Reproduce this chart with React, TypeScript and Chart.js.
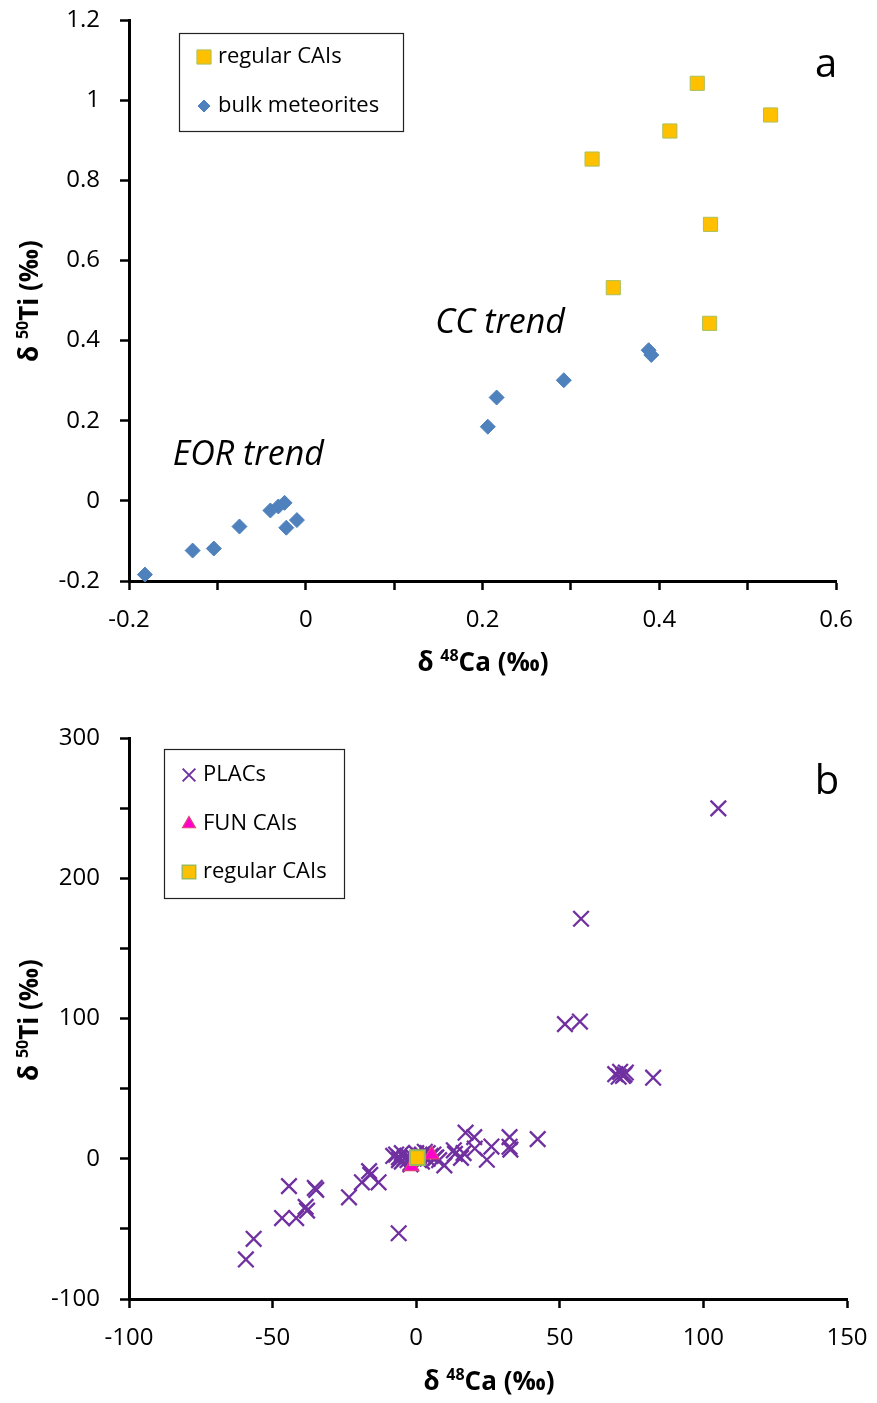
import React, { useEffect, useRef } from 'react';
import { Chart, registerables } from 'chart.js';
import { drawPoint } from 'chart.js/helpers';

Chart.register(...registerables);

const FONT = "'Open Sans', sans-serif";

// ---------- Panel a data ----------
const regularA_x = [0.443, 0.526, 0.412, 0.324, 0.458, 0.348, 0.457];
const regularA_y = [1.042, 0.963, 0.923, 0.853, 0.690, 0.532, 0.443];
const bulk_x = [0.388, 0.391, 0.292, 0.216, 0.206, -0.024, -0.031, -0.040, -0.010, -0.022, -0.075, -0.104, -0.128, -0.182];
const bulk_y = [0.376, 0.364, 0.301, 0.258, 0.185, -0.005, -0.014, -0.024, -0.048, -0.067, -0.064, -0.119, -0.124, -0.184];

const xTickValsA = [-0.2, -0.1, 0, 0.1, 0.2, 0.3, 0.4, 0.5, 0.6];
const xTickLabelsA = ['-0.2', '', '0', '', '0.2', '', '0.4', '', '0.6'];
const yTickValsA = [-0.2, 0, 0.2, 0.4, 0.6, 0.8, 1, 1.2];
const yTickLabelsA = ['-0.2', '0', '0.2', '0.4', '0.6', '0.8', '1', '1.2'];

// ---------- Panel b data ----------
const plac_x = [
  105.2, 57.4, 51.8, 57.0,
  69.3, 71.0, 72.0, 70.5, 73.0, 72.5, 82.5,
  42.3, 32.5, 32.5, 32.8, 17.2, 20.2, 26.2, 24.6, 20.4, 13.1, 15.6, 9.8, 6.6, 13.5, 16.5,
  -7, -6, -5, -4, -3, -2, -1, 0, 1, 2, 3, 4, 5, 6, -5, -2, 2, 7, -8, -3, 1, 4, 8, -6,
  -16.4, -16.0, -13.1, -18.9, -23.4, -44.3, -35.3, -34.8, -38.5, -38.0, -41.8, -46.7, -56.6, -59.3, -6.1,
];
const plac_y = [
  249.8, 171.1, 96.0, 97.8,
  60.3, 62.0, 59.0, 58.5, 61.5, 60.0, 57.8,
  14.0, 15.4, 8.5, 6.5, 18.6, 15.4, 8.7, -0.7, 7.3, 6.0, 0.6, -4.7, 0.6, 3.5, 4.0,
  3, 1, -2, 0.5, 2, -3, 1, 4, -1, 3, 5, 0, 2, 3, 4, -4, -2, 1, 2, -1, 2, 4, -1, -1,
  -8.8, -11.5, -16.8, -16.8, -27.5, -19.5, -20.8, -22.2, -34.3, -37.0, -42.3, -42.3, -57.1, -71.8, -53.1,
];
const fun_x = [5.4, -1.6];
const fun_y = [2.9, -5.5];
const regularB_x = [0.4];
const regularB_y = [0.8];

const xTickValsB = [-100, -50, 0, 50, 100, 150];
const xTickLabelsB = ['-100', '-50', '0', '50', '100', '150'];
const yTickValsB = [-100, -50, 0, 50, 100, 150, 200, 250, 300];
const yTickLabelsB = ['-100', '', '0', '', '100', '', '200', '', '300'];

const zip = (xs: number[], ys: number[]) => xs.map((x, i) => ({ x, y: ys[i] }));

type Part = { text: string; sup?: boolean };

function drawRich(ctx: CanvasRenderingContext2D, parts: Part[], cx: number, cy: number, size: number, rotate: boolean) {
  const base = `bold ${size}px ${FONT}`;
  const sup = `bold ${Math.round(size * 0.62)}px ${FONT}`;
  ctx.save();
  ctx.translate(cx, cy);
  if (rotate) ctx.rotate(-Math.PI / 2);
  let total = 0;
  parts.forEach((p) => {
    ctx.font = p.sup ? sup : base;
    total += ctx.measureText(p.text).width;
  });
  let x = -total / 2;
  ctx.textBaseline = 'middle';
  ctx.textAlign = 'left';
  ctx.fillStyle = '#000';
  parts.forEach((p) => {
    ctx.font = p.sup ? sup : base;
    ctx.fillText(p.text, x, p.sup ? -size * 0.3 : 0);
    x += ctx.measureText(p.text).width;
  });
  ctx.restore();
}

type LegendItem = { label: string; style: any; radius: number; bg: string; border: string; bw: number; y: number };

function drawLegend(ctx: CanvasRenderingContext2D, box: { x: number; y: number; w: number; h: number }, items: LegendItem[], markerX: number, textX: number, size: number) {
  ctx.save();
  ctx.fillStyle = '#fff';
  ctx.fillRect(box.x, box.y, box.w, box.h);
  ctx.strokeStyle = '#222';
  ctx.lineWidth = 1.2;
  ctx.strokeRect(box.x + 0.5, box.y + 0.5, box.w, box.h);
  items.forEach((it) => {
    ctx.fillStyle = it.bg;
    ctx.strokeStyle = it.border;
    ctx.lineWidth = it.bw;
    drawPoint(ctx, { pointStyle: it.style, radius: it.radius, rotation: 0, borderWidth: it.bw }, markerX, it.y);
    ctx.fillStyle = '#000';
    ctx.font = `${size}px ${FONT}`;
    ctx.textAlign = 'left';
    ctx.textBaseline = 'middle';
    ctx.fillText(it.label, textX, it.y);
  });
  ctx.restore();
}

function axis(min: number, max: number, vals: number[], labels: string[], isX: boolean, fit: number, pad: number) {
  return {
    type: 'linear' as const,
    min,
    max,
    afterBuildTicks: (s: any) => {
      s.ticks = vals.map((v) => ({ value: v }));
    },
    afterFit: (s: any) => {
      if (isX) s.height = fit;
      else s.width = fit;
      s.paddingTop = 0;
      s.paddingBottom = 0;
      s.paddingLeft = 0;
      s.paddingRight = 0;
    },
    ticks: {
      autoSkip: false,
      maxRotation: 0,
      color: '#000',
      padding: pad,
      font: { family: FONT, size: 24 },
      callback: (_v: any, i: number) => labels[i],
    },
    grid: {
      drawOnChartArea: false,
      drawTicks: true,
      tickLength: 9,
      tickWidth: 2.5,
      tickColor: '#000',
      color: '#000',
    },
    border: { display: true, color: '#000', width: 3 },
  };
}

function buildA(): any {
  const overlay = {
    id: 'overlayA',
    afterDraw(chart: any) {
      const ctx: CanvasRenderingContext2D = chart.ctx;
      const xs = chart.scales.x;
      const ys = chart.scales.y;
      drawLegend(
        ctx,
        { x: 179, y: 33, w: 224, h: 98 },
        [
          { label: 'regular CAIs', style: 'rect', radius: 10, bg: '#FFC000', border: '#A9C15A', bw: 1, y: 57 },
          { label: 'bulk meteorites', style: 'rectRot', radius: 6, bg: '#4F81BD', border: '#4F81BD', bw: 1, y: 106 },
        ],
        204,
        218,
        22
      );
      ctx.save();
      ctx.fillStyle = '#000';
      ctx.textAlign = 'center';
      ctx.textBaseline = 'middle';
      ctx.font = `40px ${FONT}`;
      ctx.fillText('a', 826, 66);
      ctx.font = `italic 34px ${FONT}`;
      ctx.fillText('CC trend', xs.getPixelForValue(0.22), ys.getPixelForValue(0.444));
      ctx.fillText('EOR trend', xs.getPixelForValue(-0.065), ys.getPixelForValue(0.114));
      ctx.restore();
      drawRich(ctx, [{ text: 'δ ' }, { text: '48', sup: true }, { text: 'Ca (‰)' }], 483, 664, 26, false);
      drawRich(ctx, [{ text: 'δ ' }, { text: '50', sup: true }, { text: 'Ti (‰)' }], 31, 301, 26, true);
    },
  };
  return {
    type: 'scatter',
    data: {
      datasets: [
        {
          label: 'regular CAIs',
          data: zip(regularA_x, regularA_y),
          pointStyle: 'rect',
          pointRadius: 10,
          backgroundColor: '#FFC000',
          borderColor: '#A9C15A',
          borderWidth: 1,
          clip: false,
        },
        {
          label: 'bulk meteorites',
          data: zip(bulk_x, bulk_y),
          pointStyle: 'rectRot',
          pointRadius: 7.5,
          backgroundColor: '#4F81BD',
          borderColor: '#4F81BD',
          borderWidth: 1,
          clip: false,
        },
      ],
    },
    options: {
      responsive: false,
      animation: false,
      devicePixelRatio: 1,
      layout: { padding: { top: 20, right: 41, bottom: 59, left: 0 } },
      plugins: { legend: { display: false }, tooltip: { enabled: false } },
      scales: {
        x: axis(-0.2, 0.6, xTickValsA, xTickLabelsA, true, 60, 16),
        y: axis(-0.2, 1.2, yTickValsA, yTickLabelsA, false, 129, 20),
      },
    },
    plugins: [overlay],
  };
}

function buildB(): any {
  const overlay = {
    id: 'overlayB',
    afterDraw(chart: any) {
      const ctx: CanvasRenderingContext2D = chart.ctx;
      drawLegend(
        ctx,
        { x: 164, y: 49, w: 180, h: 149 },
        [
          { label: 'PLACs', style: 'crossRot', radius: 9, bg: '#7030A0', border: '#7030A0', bw: 2, y: 75 },
          { label: 'FUN CAIs', style: 'triangle', radius: 7.5, bg: '#FF00CC', border: '#E0407A', bw: 1.2, y: 124 },
          { label: 'regular CAIs', style: 'rect', radius: 9.5, bg: '#FFC000', border: '#9BBB59', bw: 1.5, y: 172 },
        ],
        189,
        203,
        22
      );
      ctx.save();
      ctx.fillStyle = '#000';
      ctx.textAlign = 'center';
      ctx.textBaseline = 'middle';
      ctx.font = `40px ${FONT}`;
      ctx.fillText('b', 827, 83);
      ctx.restore();
      drawRich(ctx, [{ text: 'δ ' }, { text: '48', sup: true }, { text: 'Ca (‰)' }], 489, 683, 26, false);
      drawRich(ctx, [{ text: 'δ ' }, { text: '50', sup: true }, { text: 'Ti (‰)' }], 31, 320, 26, true);
    },
  };
  return {
    type: 'scatter',
    data: {
      datasets: [
        {
          label: 'regular CAIs',
          data: zip(regularB_x, regularB_y),
          pointStyle: 'rect',
          pointRadius: 10.5,
          backgroundColor: '#FFC000',
          borderColor: '#9BBB59',
          borderWidth: 2,
          clip: false,
        },
        {
          label: 'FUN CAIs',
          data: zip(fun_x, fun_y),
          pointStyle: 'triangle',
          pointRadius: 8.5,
          backgroundColor: '#FF00CC',
          borderColor: '#E0407A',
          borderWidth: 1.2,
          clip: false,
        },
        {
          label: 'PLACs',
          data: zip(plac_x, plac_y),
          pointStyle: 'crossRot',
          pointRadius: 11,
          backgroundColor: '#7030A0',
          borderColor: '#7030A0',
          borderWidth: 2.3,
          clip: false,
        },
      ],
    },
    options: {
      responsive: false,
      animation: false,
      devicePixelRatio: 1,
      layout: { padding: { top: 38, right: 30, bottom: 44, left: 0 } },
      plugins: { legend: { display: false }, tooltip: { enabled: false } },
      scales: {
        x: axis(-100, 150, xTickValsB, xTickLabelsB, true, 60, 16),
        y: axis(-100, 300, yTickValsB, yTickLabelsB, false, 129, 20),
      },
    },
    plugins: [overlay],
  };
}

function ChartPanel({ height, build }: { height: number; build: () => any }) {
  const ref = useRef<HTMLCanvasElement>(null);
  useEffect(() => {
    const chart = new Chart(ref.current as HTMLCanvasElement, build());
    return () => chart.destroy();
  }, []);
  return <canvas ref={ref} width={877} height={height} style={{ display: 'block', width: 877, height }} />;
}

export default function App() {
  return (
    <div style={{ position: 'absolute', left: 0, top: 0, width: 877, height: 1403, background: '#fff' }}>
      <ChartPanel height={700} build={buildA} />
      <ChartPanel height={703} build={buildB} />
    </div>
  );
}
